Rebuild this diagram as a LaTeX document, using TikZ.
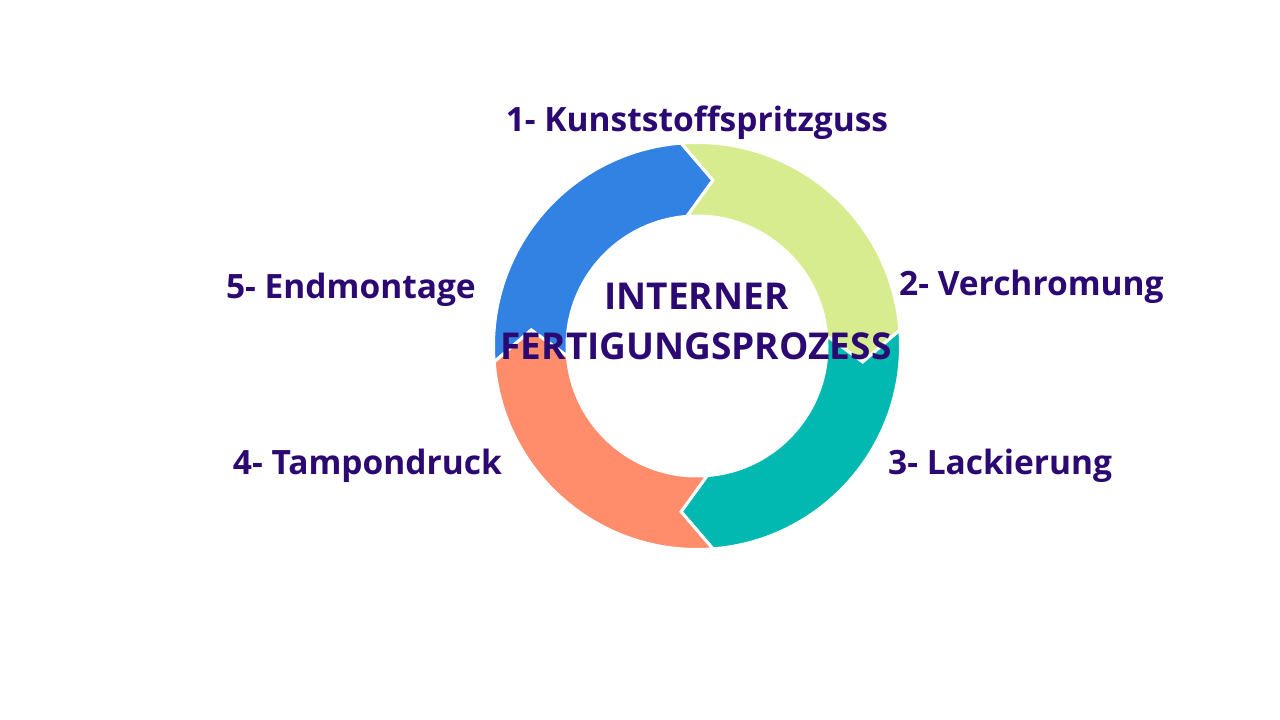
\documentclass[tikz,border=0pt]{standalone}
\usepackage{fontspec}
\setmainfont{Open Sans}
\definecolor{txtpurple}{HTML}{2C0872}
\definecolor{segblue}{HTML}{3182E2}
\definecolor{seggreen}{HTML}{D6EC8E}
\definecolor{segteal}{HTML}{02B9B1}
\definecolor{segsalmon}{HTML}{FF8C6B}
\tikzset{
  seg/.style={draw=white, line width=3pt, line join=miter},
  lbl/.style={inner sep=0pt, text=txtpurple, font=\fontsize{33.5}{40}\selectfont\bfseries},
  ctr/.style={inner sep=0pt, text=txtpurple, font=\fontsize{37}{44}\selectfont\bfseries}
}
\newcommand{\ringseg}[2]{%
  \fill[seg, fill=#2] (#1:203.5) arc[start angle=#1, end angle=#1-90, radius=203.5]
    -- (#1-100:166.5) -- (#1-90:130)
    arc[start angle=#1-90, end angle=#1, radius=130]
    -- (#1-10:166.5) -- cycle;}
\begin{document}
\begin{tikzpicture}[x=1pt,y=1pt]
\useasboundingbox[fill=white] (0,0) rectangle (1280,720);
\coordinate (c) at (697,374);
\begin{scope}[shift={(c)}]
  \ringseg{184.5}{segblue}
  \ringseg{94.5}{seggreen}
  \ringseg{4.5}{segteal}
  \ringseg{-85.5}{segsalmon}
\end{scope}
\node[lbl, anchor=base] (l1) at (697,588) {1- Kunststoffspritzguss};
\node[lbl, anchor=base west] (l2) at (899,424) {2- Verchromung};
\node[lbl, anchor=base west] (l3) at (888,245) {3- Lackierung};
\node[lbl, anchor=base east] (l4) at (502,245) {4- Tampondruck};
\node[lbl, anchor=base east] (l5) at (476,421) {5- Endmontage};
\node[ctr, anchor=base] (t1) at (696.5,410) {INTERNER};
\node[ctr, anchor=base] (t2) at (696,360) {FERTIGUNGSPROZESS};
\end{tikzpicture}
\end{document}
